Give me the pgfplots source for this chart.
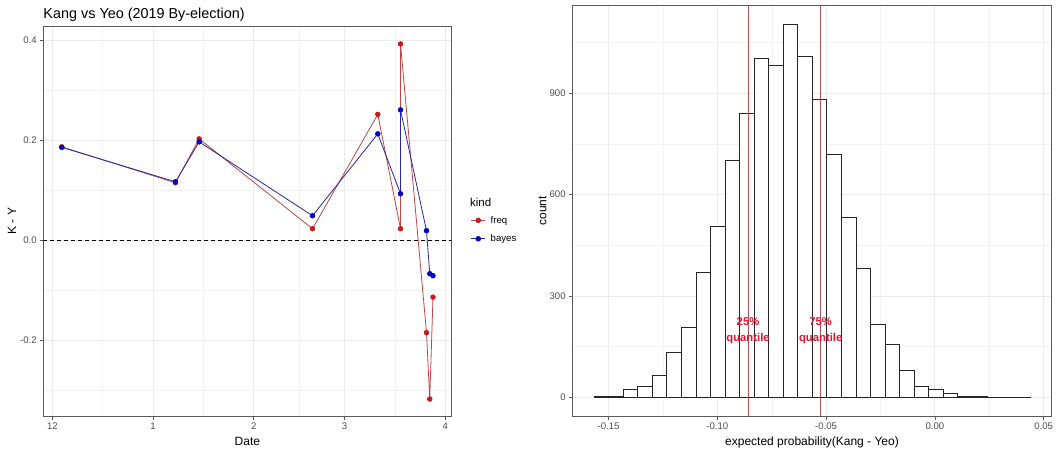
\documentclass[border=0pt]{standalone}
\usepackage{pgfplots}
\pgfplotsset{compat=1.18}
\usepackage{fontspec}
\setmainfont{Liberation Sans}
\definecolor{freqc}{RGB}{205,25,25}
\definecolor{freql}{RGB}{190,70,70}
\definecolor{bayesc}{RGB}{0,0,200}
\definecolor{bayesl}{RGB}{40,40,160}
\definecolor{panelb}{RGB}{90,90,90}
\definecolor{gridmaj}{RGB}{235,235,235}
\definecolor{gridmin}{RGB}{243,243,243}
\definecolor{ticktxt}{RGB}{77,77,77}
\definecolor{qline}{RGB}{180,80,80}
\definecolor{qtext}{RGB}{228,20,50}

\pgfplotsset{
 ggbase/.style={
  scale only axis,
  anchor=south west,
  axis line style={panelb, line width=0.9pt},
  grid=both,
  major grid style={gridmaj, line width=0.9pt},
  minor grid style={gridmin, line width=0.5pt},
  tick align=outside,
  major tick length=3.6pt,
  minor tick length=0pt,
  tick style={panelb, line width=0.8pt},
  tick pos=left,
  ticklabel style={font=\fontsize{9.6}{10}\selectfont, text=ticktxt, inner sep=0pt},
  yticklabel style={xshift=-2.9pt},
  xticklabel style={yshift=-2.9pt},
  label style={font=\fontsize{12}{14}\selectfont},
  xlabel style={anchor=base},
  ylabel style={anchor=base},
  clip mode=individual,
 }
}

\begin{document}
\begin{tikzpicture}[x=1pt,y=1pt]
\useasboundingbox (0,0) rectangle (1058,452);

% ---------------- Left: time series ----------------
\begin{axis}[ggbase,
  at={(43.3pt,36pt)}, width=408.2pt, height=390pt,
  xmin=-2.8, xmax=122.9, ymin=-0.352, ymax=0.429,
  xtick={0,31,62,90,121}, xticklabels={12,1,2,3,4},
  minor xtick={15.5,46.5,76,105.5},
  ytick={-0.2,0,0.2,0.4}, yticklabels={-0.2,0.0,0.2,0.4},
  minor ytick={-0.3,-0.1,0.1,0.3},
  xlabel={Date}, ylabel={K - Y},
  xlabel style={at={(axis description cs:0.5,-0.0769)}},
  ylabel style={at={(axis description cs:-0.0664,0.5)}},
  title={Kang vs Yeo (2019 By-election)},
  every axis title shift=0pt,
  title style={at={(axis description cs:0,1.0197)}, anchor=base west, yshift=0pt, inner sep=0pt, font=\fontsize{14.4}{17}\selectfont},
  legend style={at={(axis description cs:1.047,0.478)}, anchor=west, draw=none, fill=none, inner sep=0pt,
    font=\fontsize{9.6}{11}\selectfont, row sep=8pt, nodes={inner sep=1pt}, cells={anchor=west},
    /tikz/every odd column/.append style={column sep=4pt}},
  legend image code/.code={\draw[mark repeat=2,mark phase=2,#1] plot coordinates {(0pt,0pt) (7pt,0pt) (14pt,0pt)};},
]
\addplot[black, dash pattern=on 4pt off 3pt, line width=0.8pt, forget plot] coordinates {(-2.8,0) (122.9,0)};
\addplot[freql, line width=0.8pt, mark=*, mark size=2.3pt, mark options={freqc, fill=freqc, draw=none}] coordinates {
(2.9,0.187) (37.9,0.115) (45.2,0.203) (80.1,0.023) (100.2,0.252) (107.2,0.023) (107.2,0.393)
(115.2,-0.185) (116.2,-0.318) (117.2,-0.114)};
\addlegendentry{freq}
\addplot[bayesl, line width=0.8pt, mark=*, mark size=2.3pt, mark options={bayesc, fill=bayesc, draw=none}] coordinates {
(2.9,0.186) (37.9,0.117) (45.2,0.197) (80.1,0.049) (100.2,0.213) (107.2,0.093) (107.2,0.261)
(115.2,0.019) (116.2,-0.067) (117.2,-0.071)};
\addlegendentry{bayes}
\node[anchor=west, inner sep=0pt, font=\fontsize{11.5}{13}\selectfont] at (axis description cs:1.0453,0.547) {kind};
\end{axis}

% ---------------- Right: histogram ----------------
\begin{axis}[ggbase,
  at={(572.3pt,36pt)}, width=479.4pt, height=410.3pt,
  xmin=-0.1667, xmax=0.0537, ymin=-55, ymax=1159,
  xtick={-0.15,-0.10,-0.05,0,0.05}, xticklabels={-0.15,-0.10,-0.05,0.00,0.05},
  minor xtick={-0.125,-0.075,-0.025,0.025},
  ytick={0,300,600,900}, yticklabels={0,300,600,900},
  minor ytick={150,450,750,1050},
  xlabel={expected probability(Kang - Yeo)}, ylabel={count},
  xlabel style={at={(axis description cs:0.5,-0.0731)}},
  ylabel style={at={(axis description cs:-0.0542,0.5)}},
]
\addplot[ybar interval, fill=white, draw=black!85, line width=0.8pt] coordinates {
(-0.15670,2) (-0.15001,3) (-0.14332,24) (-0.13663,33) (-0.12994,65) (-0.12325,134)
(-0.11656,207) (-0.10987,370) (-0.10318,506) (-0.09649,700) (-0.08980,839) (-0.08311,1004)
(-0.07642,982) (-0.06973,1104) (-0.06304,1009) (-0.05635,881) (-0.04966,719) (-0.04297,534)
(-0.03628,383) (-0.02959,215) (-0.02290,158) (-0.01621,80) (-0.00952,32) (-0.00283,24)
(0.00386,11) (0.01055,4) (0.01724,3) (0.02393,0) (0.03062,0) (0.03731,1) (0.04400,1)};
\addplot[qline, line width=1pt] coordinates {(-0.0859,-55) (-0.0859,1159)};
\addplot[qline, line width=1pt] coordinates {(-0.0525,-55) (-0.0525,1159)};
\node[qtext, align=center, inner sep=0pt, font=\fontsize{11.3}{16}\selectfont\bfseries] at (axis cs:-0.0859,198) {25\%\\quantile};
\node[qtext, align=center, inner sep=0pt, font=\fontsize{11.3}{16}\selectfont\bfseries] at (axis cs:-0.0525,198) {75\%\\quantile};
\end{axis}
\end{tikzpicture}
\end{document}
